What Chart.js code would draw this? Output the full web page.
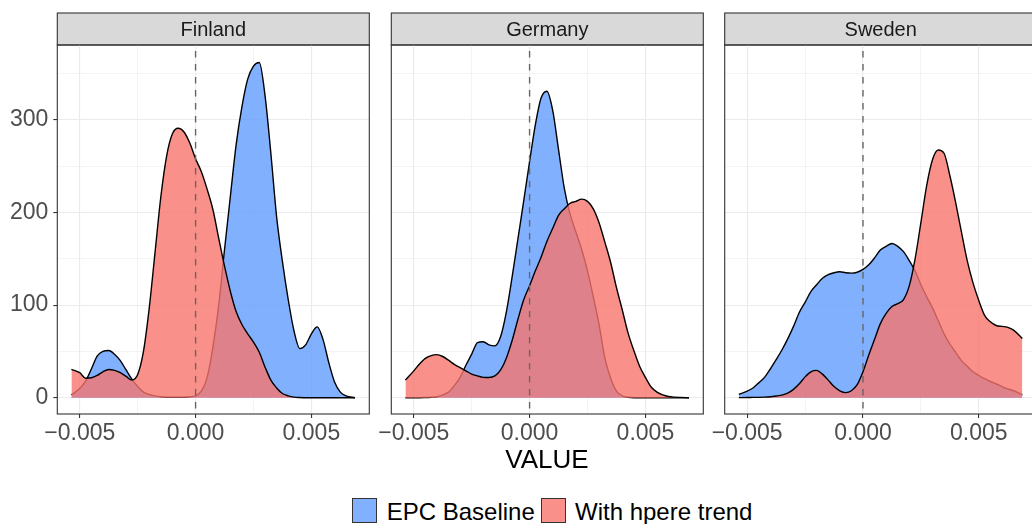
<!DOCTYPE html>
<html>
<head>
<meta charset="utf-8">
<script src="https://cdn.jsdelivr.net/npm/chart.js@4.4.1/dist/chart.umd.min.js"></script>
<style>
  body { margin: 0; width: 1032px; height: 524px; overflow: hidden; background: #fff; position: relative;
         font-family: "Liberation Sans", Arial, sans-serif; }
  canvas { position: absolute; top: 0; }
  .axis-title { position: absolute; left: 447px; width: 200px; top: 446px; font-size: 26px; line-height: 26px;
                text-align: center; color: #000; }
  .key { position: absolute; top: 498px; width: 25px; height: 25px; box-sizing: border-box; border: 1px solid #333; }
  .key-label { position: absolute; top: 500px; font-size: 24px; line-height: 24px; color: #000; white-space: nowrap; }
</style>
</head>
<body>
<canvas id="panel0" width="372" height="445" style="left:0px"></canvas>
<canvas id="panel1" width="346" height="445" style="left:360px"></canvas>
<canvas id="panel2" width="346" height="445" style="left:694px"></canvas>
<div class="axis-title">VALUE</div>
<div id="legend"></div>
<script>
// facets and series
const countries = ["Finland", "Germany", "Sweden"];
const seriesNames = ["EPC Baseline", "With hpere trend"];

const valueGrid = [-0.00536, -0.005, -0.00475, -0.0045, -0.00425, -0.004, -0.00375, -0.0035, -0.00325, -0.003,
  -0.00275, -0.0025, -0.00225, -0.002, -0.00175, -0.0015, -0.00125, -0.001, -0.00075, -0.0005,
  -0.00025, 0, 0.00025, 0.0005, 0.00075, 0.001, 0.00125, 0.0015, 0.00175, 0.002,
  0.00225, 0.0025, 0.00275, 0.003, 0.00325, 0.0035, 0.00375, 0.004, 0.00425, 0.0045,
  0.00475, 0.005, 0.00525, 0.0055, 0.00575, 0.006, 0.00625, 0.0065, 0.00688];

const finlandEpc = [3, 10, 18, 31, 45, 50, 51, 47, 40, 30, 20, 12, 6, 3.5, 2, 1, 0.5, 0.5, 0.5, 0.5,
  1, 2, 7, 22, 55, 100, 160, 217, 273, 314, 344, 358, 362, 326, 264, 195, 147, 106, 72, 53,
  57, 69, 76.5, 63, 38, 17, 6, 2, 0];
const finlandTrend = [30.6, 27, 21, 21.5, 24, 28, 30.5, 29.5, 27, 23, 19, 25, 50, 97, 157, 217, 261, 285, 291, 287,
  275, 258, 244, 225, 203, 172, 142, 115, 93, 79, 69, 60, 49, 33, 19, 10.5, 4.5, 2, 0.6, 0.2,
  0, 0, 0, 0, 0, 0, 0, 0, 0];

const germanyEpc = [0, 0, 0, 0.2, 0.5, 1, 3, 6, 13, 22, 35, 47, 59.5, 60.5, 57, 56, 66, 93, 131, 172,
  213, 255, 295, 324, 331, 310, 268, 226, 198, 179, 160, 137, 109, 79, 43, 21, 7, 2, 0.5, 0,
  0, 0, 0, 0, 0, 0, 0, 0, 0];
const germanyTrend = [19, 29, 36.5, 42.5, 45.5, 46.5, 44.5, 40.5, 36, 32.5, 29, 25.5, 23.5, 22, 21.8, 23.5, 30, 43, 62, 85,
  106, 121, 137, 152, 169, 183, 197, 204, 210, 212, 214.5, 212, 204, 189, 168, 146, 119, 95, 70, 51,
  34, 22, 11.5, 6, 3, 1.3, 0.6, 0.3, 0];

const swedenEpc = [3.6, 7, 10.5, 16, 22, 31, 41, 51.5, 63.5, 77, 92, 103, 114.5, 122, 129, 133, 135, 136, 135, 134.5,
  135.5, 138.5, 143.5, 151, 159.5, 163.5, 166.5, 163.5, 157.7, 148, 137, 122, 109, 97, 83, 69, 58, 49, 40, 34,
  28, 24, 20.5, 17.5, 15, 12, 9.5, 7.5, 3.2];
const swedenTrend = [0.1, 0.2, 0.3, 0.4, 0.6, 1, 1.8, 2.8, 5, 9, 15, 22.5, 28, 29.5, 25.5, 19, 12, 7.5, 5.5, 7.5,
  14, 28, 46, 63, 80, 91, 98.5, 101.5, 106, 121, 150, 189, 229, 257, 267.5, 264, 240, 211, 179, 148,
  124, 105, 89, 82, 78, 77, 76, 73, 64];

const epcSeries = [finlandEpc, germanyEpc, swedenEpc];
const trendSeries = [finlandTrend, germanyTrend, swedenTrend];

// axes
const xTicks = [-0.005, -0.0025, 0, 0.0025, 0.005];
const xLabelled = [-0.005, 0, 0.005];
const yTicks = [0, 50, 100, 150, 200, 250, 300, 350];
const yLabelled = [0, 100, 200, 300];
const refLine = 0;

const fills = ["rgba(97,156,255,0.8)", "rgba(248,118,109,0.8)"];
const FONT = '"Liberation Sans", Arial, sans-serif';

// strip, panel border and the dashed zero line
const facetFrame = {
  id: "facetFrame",
  beforeDraw(chart, args, opts) {
    const a = chart.chartArea, ctx = chart.ctx;
    ctx.save();
    ctx.fillStyle = "#D9D9D9";
    ctx.fillRect(a.left, 13, a.right - a.left, 32);
    ctx.strokeStyle = "#333";
    ctx.lineWidth = 1.1;
    ctx.strokeRect(a.left, 13, a.right - a.left, 32);
    ctx.fillStyle = "#1A1A1A";
    ctx.font = "20px " + FONT;
    ctx.textAlign = "center";
    ctx.textBaseline = "alphabetic";
    ctx.fillText(opts.title, (a.left + a.right) / 2, 35.7);
    ctx.restore();
  },
  afterDatasetsDraw(chart) {
    const a = chart.chartArea, ctx = chart.ctx;
    const x = chart.scales.x.getPixelForValue(refLine);
    ctx.save();
    ctx.strokeStyle = "#666";
    ctx.lineWidth = 1.4;
    ctx.setLineDash([6.5, 6.5]);
    ctx.lineDashOffset = -6;
    ctx.beginPath();
    ctx.moveTo(x, a.top);
    ctx.lineTo(x, a.bottom);
    ctx.stroke();
    ctx.restore();
  },
  afterDraw(chart) {
    const a = chart.chartArea, ctx = chart.ctx;
    ctx.save();
    ctx.strokeStyle = "#333";
    ctx.lineWidth = 1.1;
    ctx.strokeRect(a.left, a.top, a.right - a.left, a.bottom - a.top);
    ctx.restore();
  }
};

const isMajor = (list, ctx) => ctx.tick && list.includes(ctx.tick.value);
const fmt = v => (v < 0 ? "\u2212" : "") + Math.abs(v).toFixed(3);

function makePanel(k, padLeft, padRight) {
  const first = k === 0;
  const toPoints = ys => valueGrid.map((x, i) => ({ x: x, y: ys[i] }));
  const ds = (label, ys, color, order) => ({
    label: label,
    data: toPoints(ys),
    backgroundColor: color,
    borderColor: "#000",
    borderWidth: 1.4,
    pointRadius: 0,
    fill: "origin",
    cubicInterpolationMode: "monotone",
    order: order
  });
  return new Chart(document.getElementById("panel" + k), {
    type: "line",
    data: {
      datasets: [
        ds(seriesNames[0], epcSeries[k], fills[0], 2),
        ds(seriesNames[1], trendSeries[k], fills[1], 1)
      ]
    },
    options: {
      responsive: false,
      animation: false,
      devicePixelRatio: 1,
      layout: { padding: { left: padLeft, right: padRight, top: 45, bottom: 0 } },
      plugins: {
        legend: { display: false },
        tooltip: { enabled: false },
        facetFrame: { title: countries[k] }
      },
      scales: {
        x: {
          type: "linear",
          min: -0.00597,
          max: 0.0075,
          afterBuildTicks: s => { s.ticks = xTicks.map(v => ({ value: v })); },
          afterFit: s => { s.height = 31; },
          border: { display: false },
          grid: {
            color: "#EBEBEB",
            lineWidth: c => isMajor(xLabelled, c) ? 1.1 : 0.55,
            drawTicks: true,
            tickLength: 4,
            tickColor: c => isMajor(xLabelled, c) ? "#333" : "rgba(0,0,0,0)",
            tickWidth: 1.1
          },
          ticks: {
            autoSkip: false,
            maxRotation: 0,
            padding: 2,
            color: "#4D4D4D",
            font: { family: FONT, size: 23 },
            callback: v => xLabelled.includes(v) ? fmt(v) : ""
          }
        },
        y: {
          type: "linear",
          min: -17.6,
          max: 380.9,
          afterBuildTicks: s => { s.ticks = yTicks.map(v => ({ value: v })); },
          afterFit: s => { s.width = first ? 57.3 : 0; },
          border: { display: false },
          grid: {
            color: "#EBEBEB",
            lineWidth: c => isMajor(yLabelled, c) ? 1.1 : 0.55,
            drawTicks: first,
            tickLength: 4,
            tickColor: c => isMajor(yLabelled, c) ? "#333" : "rgba(0,0,0,0)",
            tickWidth: 1.1
          },
          ticks: {
            display: first,
            autoSkip: false,
            padding: 5,
            color: "#4D4D4D",
            font: { family: FONT, size: 23 },
            callback: v => yLabelled.includes(v) ? String(v) : ""
          }
        }
      }
    },
    plugins: [facetFrame]
  });
}

makePanel(0, 0, 2.7);
makePanel(1, 31.3, 2.7);
makePanel(2, 30.7, 3.3);

// legend below the panels
const legend = document.getElementById("legend");
const keyLeft = [352, 541];
const labelLeft = [386.7, 575];
seriesNames.forEach((name, i) => {
  const key = document.createElement("div");
  key.className = "key";
  key.style.left = keyLeft[i] + "px";
  key.style.background = fills[i];
  legend.appendChild(key);
  const lab = document.createElement("div");
  lab.className = "key-label";
  lab.style.left = labelLeft[i] + "px";
  lab.textContent = name;
  legend.appendChild(lab);
});
</script>
</body>
</html>
